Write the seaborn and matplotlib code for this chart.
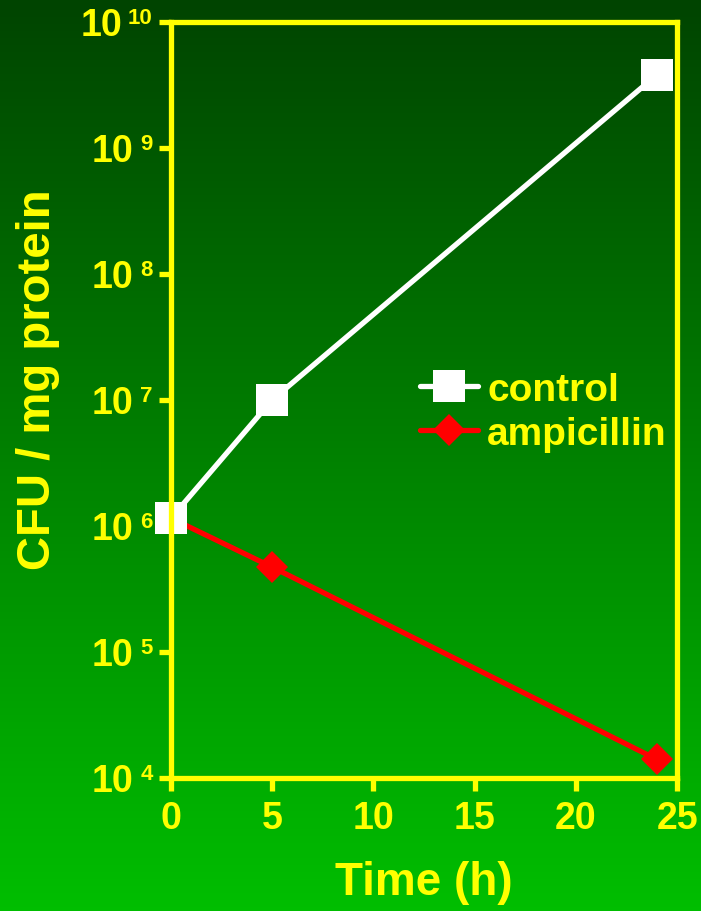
import numpy as np
import pandas as pd
import matplotlib
matplotlib.use("Agg")
import matplotlib.pyplot as plt
import matplotlib.transforms as mtransforms
import seaborn as sns
from matplotlib.colors import LinearSegmentedColormap

# data
time_h = [0, 5, 24]
control = [1.15e6, 1.0e7, 3.8e9]
ampicillin = [1.15e6, 4.7e5, 1.4e4]
series_names = ["control", "ampicillin"]

x_ticks = [0, 5, 10, 15, 20, 25]
y_ticks = [1e4, 1e5, 1e6, 1e7, 1e8, 1e9, 1e10]
y_exponents = ["4", "5", "6", "7", "8", "9", "10"]

YELLOW = "#FFFF00"

sns.set_theme(style="ticks")
plt.rcParams["font.family"] = ["Liberation Sans", "DejaVu Sans"]
plt.rcParams["font.weight"] = "bold"

df = pd.DataFrame({
    "time": time_h * 2,
    "cfu": control + ampicillin,
    "treatment": [series_names[0]] * 3 + [series_names[1]] * 3,
})

fig = plt.figure(figsize=(7.01, 9.12), dpi=100)

# green gradient background
bg = fig.add_axes([0, 0, 1, 1], zorder=-10)
cmap = LinearSegmentedColormap.from_list("bg", ["#004400", "#00BE00"])
bg.imshow(np.linspace(0, 1, 256).reshape(-1, 1), aspect="auto", cmap=cmap,
          extent=[0, 1, 0, 1], origin="upper")
bg.set_axis_off()

ax = fig.add_axes([0.244, 0.146, 0.722, 0.829])
ax.set_facecolor("none")

sns.lineplot(data=df[df.treatment == "ampicillin"], x="time", y="cfu",
             color="#FF0000", marker="D", markersize=16, markeredgewidth=0,
             linewidth=3.8, ax=ax, label="ampicillin", zorder=3, clip_on=False)
sns.lineplot(data=df[df.treatment == "control"], x="time", y="cfu",
             color="white", marker="s", markersize=22.5, markeredgewidth=0,
             linewidth=3.8, ax=ax, label="control", zorder=4, clip_on=False)

ax.set_yscale("log")
ax.set_xlim(0, 25)
ax.set_ylim(1e4, 1e10)
ax.set_xticks(x_ticks)
ax.set_yticks(y_ticks)
ax.set_yticklabels([""] * len(y_ticks))
ax.minorticks_off()

for s in ax.spines.values():
    s.set_color(YELLOW)
    s.set_linewidth(3.8)
    s.set_zorder(5)
    s.set_visible(True)
ax.tick_params(axis="both", colors=YELLOW, width=3.8, length=9, direction="out")
ax.tick_params(axis="x", labelsize=27, pad=7)
for lab in ax.get_xticklabels():
    lab.set_fontweight("bold")

# 10^n tick labels: base and exponent drawn separately, right-aligned
trans = mtransforms.blended_transform_factory(ax.transAxes, ax.transData)
for yv, ex in zip(y_ticks, y_exponents):
    ax.annotate(ex, xy=(0, yv), xycoords=trans, xytext=(-13.3, 10.5),
                textcoords="offset points", ha="right", va="top",
                color=YELLOW, fontsize=16, fontweight="bold", annotation_clip=False)
    ax.annotate("10", xy=(0, yv), xycoords=trans,
                xytext=(-13.3 - 7.6 * len(ex) - 6.5, -2),
                textcoords="offset points", ha="right", va="center",
                color=YELLOW, fontsize=27, fontweight="bold", annotation_clip=False)

ax.set_xlabel("Time (h)", color=YELLOW, fontsize=33, fontweight="bold")
ax.set_ylabel("CFU / mg protein", color=YELLOW, fontsize=34, fontweight="bold")
ax.xaxis.set_label_coords(0.5, -0.108)
ax.yaxis.set_label_coords(-0.22, 0.528)

handles, labels = ax.get_legend_handles_labels()
order = [labels.index("control"), labels.index("ampicillin")]
leg = ax.legend([handles[i] for i in order], [labels[i] for i in order],
                loc="center left", bbox_to_anchor=(0.492, 0.484), frameon=False,
                fontsize=28, handlelength=1.5, handletextpad=0.23,
                labelspacing=0.2, borderaxespad=0, borderpad=0)
for t in leg.get_texts():
    t.set_color(YELLOW)
    t.set_fontweight("bold")

fig.savefig("out.png", dpi=100, facecolor=fig.get_facecolor())
